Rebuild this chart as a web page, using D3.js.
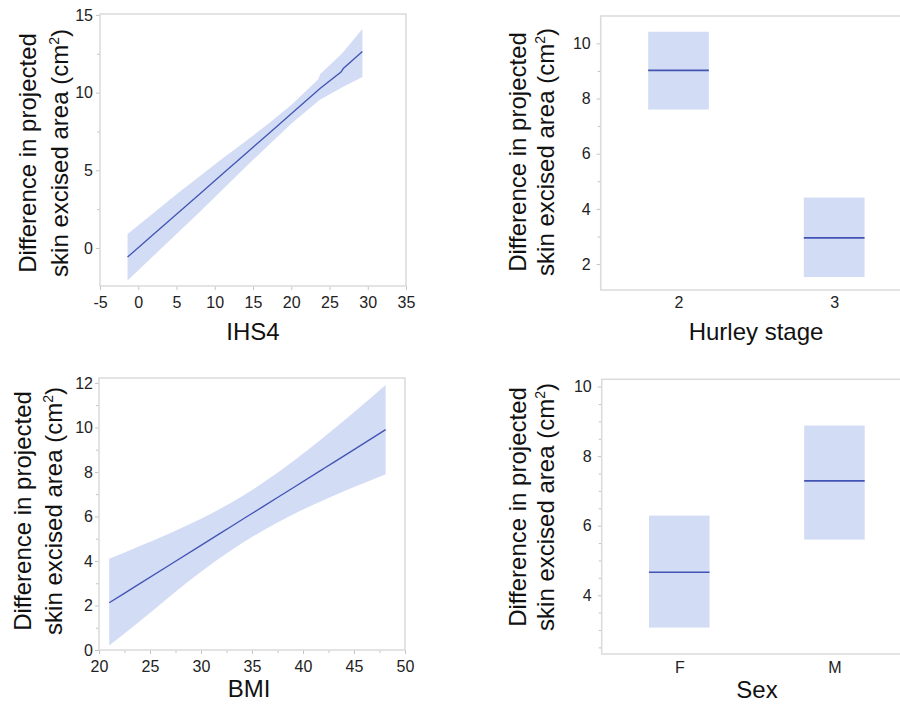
<!DOCTYPE html>
<html>
<head>
<meta charset="utf-8">
<script src="https://cdn.jsdelivr.net/npm/d3@7"></script>
<style>
  body { margin: 0; background: #fff; }
  svg { display: block; font-family: Arial, "Liberation Sans", sans-serif; }
  .tick text { fill: #222; font-size: 16px; }
  .tick line { stroke: #c4c4c4; }
  .title { fill: #111; font-size: 24px; }
</style>
</head>
<body>
<svg id="chart" width="900" height="704"></svg>
<script>
// IHS4 panel: fitted difference with confidence band
var ihsX     = [-1.4, 2,    5,    8,    11,   14,   17,   20,   23.5,  23.8,  26.5,  26.8,  29.3];
var ihsFit   = [-0.59, 0.88, 2.17, 3.46, 4.76, 6.05, 7.34, 8.64, 10.15, 10.28, 11.32, 11.55, 12.64];
var ihsLower = [-2.1, -0.5,  0.9,  2.3,  3.75, 5.2,  6.6,  8.0,  9.45,  9.55,  10.3,  10.38, 11.0];
var ihsUpper = [0.9,  2.25,  3.45, 4.6,  5.75, 6.85, 8.0,  9.2,  10.85, 11.2,  12.45, 12.62, 14.1];

// BMI panel
var bmiX     = [21,   24,   27,   30,   33,   36,   39,   42,   45,    48.1];
var bmiFit   = [2.12, 2.98, 3.84, 4.70, 5.56, 6.42, 7.28, 8.14, 9.0,   9.9];
var bmiLower = [0.2,  1.29, 2.43, 3.51, 4.49, 5.35, 6.09, 6.73, 7.32,  7.9];
var bmiUpper = [4.1,  4.67, 5.26, 5.9,  6.63, 7.49, 8.47, 9.55, 10.68, 11.9];

// Hurley stage panel
var hurleyStages = ["2", "3"];
var hurleyFit    = [9.02, 2.95];
var hurleyLower  = [7.6, 1.53];
var hurleyUpper  = [10.42, 4.41];

// Sex panel
var sexes    = ["F", "M"];
var sexFit   = [4.66, 7.29];
var sexLower = [3.07, 5.6];
var sexUpper = [6.29, 8.88];

// tick labels
var ihsXTicks = [-5, 0, 5, 10, 15, 20, 25, 30, 35];
var ihsYTicks = [0, 5, 10, 15];
var ihsYMinor = [2.5, 7.5, 12.5];
var bmiXTicks = [20, 25, 30, 35, 40, 45, 50];
var bmiXMinor = [22.5, 27.5, 32.5, 37.5, 42.5, 47.5];
var bmiYTicks = [0, 2, 4, 6, 8, 10, 12];
var bmiYMinor = [1, 3, 5, 7, 9, 11];
var hurleyYTicks = [2, 4, 6, 8, 10];
var hurleyYMinor = [3, 5, 7, 9];
var sexYTicks = [4, 6, 8, 10];
var sexYMinor = [2.5, 3, 3.5, 4.5, 5, 5.5, 6.5, 7, 7.5, 8.5, 9, 9.5];

var BAND = "#d3dcf5", LINE = "#4154b4", FRAME = "#dadada";

var svg = d3.select("#chart");

function zip(xs, a, b, c) {
  return xs.map(function(d, i) { return {x: d, fit: a[i], lo: b[i], hi: c[i]}; });
}

function axes(g, o, x, y) {
  var fmt = function(d) { return String(d); };
  g.append("g")
      .attr("transform", "translate(" + o.left + ",0)")
      .call(d3.axisLeft(y).tickValues(o.yMinor).tickSize(3).tickFormat(""))
      .call(function(a) { a.select(".domain").remove(); });
  g.append("g")
      .attr("transform", "translate(" + o.left + ",0)")
      .call(d3.axisLeft(y).tickValues(o.yTicks).tickSize(4).tickPadding(o.yPad).tickFormat(fmt))
      .call(function(a) { a.select(".domain").remove(); });

  if (o.xMinor) {
    g.append("g")
        .attr("transform", "translate(0," + o.bottom + ")")
        .call(d3.axisBottom(x).tickValues(o.xMinor).tickSize(3).tickFormat(""))
        .call(function(a) { a.select(".domain").remove(); });
  }
  var xa = o.xTicks ? d3.axisBottom(x).tickValues(o.xTicks).tickFormat(fmt) : d3.axisBottom(x);
  g.append("g")
      .attr("transform", "translate(0," + o.bottom + ")")
      .call(xa.tickSize(o.xTickSize).tickPadding(o.xPad))
      .call(function(a) { a.select(".domain").remove(); });

  g.append("rect")
      .attr("x", o.left).attr("y", o.top)
      .attr("width", o.right - o.left).attr("height", o.bottom - o.top)
      .attr("fill", "none").attr("stroke", FRAME).attr("stroke-width", 1.5);

  g.append("text").attr("class", "title")
      .attr("x", o.xTitleX).attr("y", o.xTitleY)
      .attr("text-anchor", "middle").text(o.xTitle);

  g.append("text").attr("class", "title")
      .attr("transform", "translate(" + o.yT1 + "," + o.yTc + ") rotate(-90)")
      .attr("text-anchor", "middle").text("Difference in projected");
  var t2 = g.append("text").attr("class", "title")
      .attr("transform", "translate(" + o.yT2 + "," + o.yTc + ") rotate(-90)")
      .attr("text-anchor", "middle");
  t2.append("tspan").text("skin excised area (cm");
  t2.append("tspan").attr("font-size", 14).attr("dy", -9).text("2");
  t2.append("tspan").attr("dy", 9).text(")");
}

function linePanel(o, rows) {
  var g = svg.append("g");
  var x = d3.scaleLinear().domain(o.xDomain).range([o.left, o.right]);
  var y = d3.scaleLinear().domain(o.yDomain).range([o.bottom, o.top]);
  var curve = o.smooth ? d3.curveMonotoneX : d3.curveLinear;

  g.append("path").datum(rows)
      .attr("fill", BAND)
      .attr("d", d3.area().curve(curve)
                          .x(function(d) { return x(d.x); })
                          .y0(function(d) { return y(d.lo); })
                          .y1(function(d) { return y(d.hi); }));
  g.append("path").datum(rows)
      .attr("fill", "none").attr("stroke", LINE).attr("stroke-width", 1.3)
      .attr("d", d3.line().curve(curve)
                          .x(function(d) { return x(d.x); })
                          .y(function(d) { return y(d.fit); }));
  axes(g, o, x, y);
}

function boxPanel(o, rows) {
  var g = svg.append("g");
  var x = d3.scalePoint().domain(o.cats).range([o.left, o.right]).padding(0.5);
  var y = d3.scaleLinear().domain(o.yDomain).range([o.bottom, o.top]);
  var w = x.step() * 0.39;

  g.selectAll("rect.ci").data(rows).enter().append("rect")
      .attr("class", "ci")
      .attr("x", function(d) { return x(d.x) - w / 2; })
      .attr("width", w)
      .attr("y", function(d) { return y(d.hi); })
      .attr("height", function(d) { return y(d.lo) - y(d.hi); })
      .attr("fill", BAND);
  g.selectAll("line.fit").data(rows).enter().append("line")
      .attr("class", "fit")
      .attr("x1", function(d) { return x(d.x) - w / 2; })
      .attr("x2", function(d) { return x(d.x) + w / 2; })
      .attr("y1", function(d) { return y(d.fit); })
      .attr("y2", function(d) { return y(d.fit); })
      .attr("stroke", LINE).attr("stroke-width", 1.6);
  axes(g, o, x, y);
}

linePanel({
  left: 100, right: 406, top: 14, bottom: 286,
  xDomain: [-5, 35], yDomain: [-2.45, 15.06],
  xTicks: ihsXTicks, yTicks: ihsYTicks, yMinor: ihsYMinor,
  yPad: 3, xTickSize: 4, xPad: 7,
  xTitle: "IHS4", xTitleX: 253, xTitleY: 340,
  yT1: 36, yT2: 68, yTc: 153
}, zip(ihsX, ihsFit, ihsLower, ihsUpper));

boxPanel({
  left: 600.7, right: 912, top: 16, bottom: 290,
  cats: hurleyStages, yDomain: [1.06, 10.99],
  yTicks: hurleyYTicks, yMinor: hurleyYMinor,
  yPad: 6, xTickSize: 0, xPad: 7,
  xTitle: "Hurley stage", xTitleX: 756, xTitleY: 340,
  yT1: 525.5, yT2: 554, yTc: 152
}, zip(hurleyStages, hurleyFit, hurleyLower, hurleyUpper));

linePanel({
  left: 99, right: 405, top: 378, bottom: 650,
  xDomain: [20, 50], yDomain: [0, 12.22],
  xTicks: bmiXTicks, xMinor: bmiXMinor, yTicks: bmiYTicks, yMinor: bmiYMinor,
  yPad: 2, xTickSize: 4, xPad: 7, smooth: true,
  xTitle: "BMI", xTitleX: 249, xTitleY: 697,
  yT1: 31, yT2: 62, yTc: 511
}, zip(bmiX, bmiFit, bmiLower, bmiUpper));

boxPanel({
  left: 601.7, right: 912, top: 379.3, bottom: 654,
  cats: sexes, yDomain: [2.31, 10.21],
  yTicks: sexYTicks, yMinor: sexYMinor,
  yPad: 6, xTickSize: 0, xPad: 8,
  xTitle: "Sex", xTitleX: 757, xTitleY: 698,
  yT1: 525.5, yT2: 554, yTc: 507
}, zip(sexes, sexFit, sexLower, sexUpper));
</script>
</body>
</html>
